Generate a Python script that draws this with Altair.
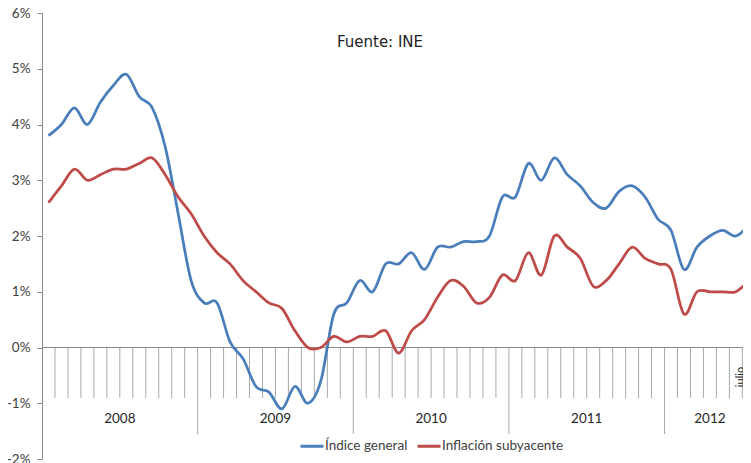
import altair as alt
import pandas as pd

# ---- data ----
years = ["2008", "2009", "2010", "2011", "2012"]
months_per_year = [12, 12, 12, 12, 7]
series_names = ["Índice general", "Inflación subyacente"]
series_colors = ["#4a7ebb", "#be4b48"]

indice_general = [
    3.8, 4.0, 4.3, 4.0, 4.4, 4.7, 4.9, 4.5, 4.3, 3.6, 2.4, 1.2,      # 2008
    0.8, 0.8, 0.1, -0.2, -0.7, -0.8, -1.1, -0.7, -1.0, -0.6, 0.6, 0.8,  # 2009
    1.2, 1.0, 1.5, 1.5, 1.7, 1.4, 1.8, 1.8, 1.9, 1.9, 2.0, 2.7,      # 2010
    2.7, 3.3, 3.0, 3.4, 3.1, 2.9, 2.6, 2.5, 2.8, 2.9, 2.7, 2.3,      # 2011
    2.1, 1.4, 1.8, 2.0, 2.1, 2.0, 2.2,                               # 2012
]
inflacion_subyacente = [
    2.6, 2.9, 3.2, 3.0, 3.1, 3.2, 3.2, 3.3, 3.4, 3.1, 2.7, 2.4,      # 2008
    2.0, 1.7, 1.5, 1.2, 1.0, 0.8, 0.7, 0.3, 0.0, 0.0, 0.2, 0.1,      # 2009
    0.2, 0.2, 0.3, -0.1, 0.3, 0.5, 0.9, 1.2, 1.1, 0.8, 0.9, 1.3,     # 2010
    1.2, 1.7, 1.3, 2.0, 1.8, 1.6, 1.1, 1.2, 1.5, 1.8, 1.6, 1.5,      # 2011
    1.4, 0.6, 1.0, 1.0, 1.0, 1.0, 1.2,                               # 2012
]
y_ticks = [-2, -1, 0, 1, 2, 3, 4, 5, 6]
last_month_label = "julio"
source_label = "Fuente: INE"

# ---- tables built from the arrays ----
n = len(indice_general)
df_lines = pd.DataFrame({
    "t": [i + 0.5 for i in range(n)] * 2,
    "valor": indice_general + inflacion_subyacente,
    "serie": [series_names[0]] * n + [series_names[1]] * n,
    "orden": list(range(n)) * 2,
})

starts, s = [], 0
for m in months_per_year:
    starts.append(s)
    s += m
ends = starts[1:] + [s]
df_years = pd.DataFrame({"year": years, "centro": [(a + b) / 2 for a, b in zip(starts, ends)]})
df_sep = pd.DataFrame({"t": starts[1:], "cero": [0] * (len(starts) - 1)})
month_bounds = [b for b in range(1, n) if b not in starts]
df_month = pd.DataFrame({"t": month_bounds, "cero": [0] * len(month_bounds)})

W, H = 701, 446
x_max = 54.05
xs = alt.Scale(domain=[0, x_max], nice=False, zero=False)
ys = alt.Scale(domain=[-2, 6], nice=False, zero=False)
FONT = "Lato"
GRAY = "#8a8a8a"

y_axis = alt.Axis(
    values=y_ticks, labelExpr="datum.value + '%'", title=None, grid=False,
    domainColor=GRAY, tickColor=GRAY, tickSize=5, labelPadding=7,
    labelFont=FONT, labelFontSize=13.5, labelColor="#404040")

lines = alt.Chart(df_lines).mark_line(interpolate="cardinal", strokeWidth=2.75).encode(
    x=alt.X("t:Q", scale=xs, axis=None),
    y=alt.Y("valor:Q", scale=ys, axis=y_axis),
    color=alt.Color("serie:N", scale=alt.Scale(domain=series_names, range=series_colors),
                    legend=alt.Legend(orient="none", legendX=257, legendY=420,
                                      direction="horizontal", title=None,
                                      symbolType="stroke", symbolSize=529,
                                      symbolStrokeWidth=3, labelFont=FONT,
                                      labelFontSize=13.5, labelColor="#404040",
                                      labelOffset=0, columnPadding=3)),
    order="orden:Q",
)

zero_line = alt.Chart(pd.DataFrame({"v": [0]})).mark_rule(color=GRAY, strokeWidth=1).encode(
    y=alt.Y("v:Q", scale=ys, axis=y_axis), x=alt.value(0), x2=alt.value(W))

month_ticks = alt.Chart(df_month).mark_rule(color="#a8a8a8", strokeWidth=1).encode(
    x=alt.X("t:Q", scale=xs, axis=None), y=alt.Y("cero:Q", scale=ys, axis=y_axis),
    y2=alt.value(385))

year_ticks = alt.Chart(df_sep).mark_rule(color="#a8a8a8", strokeWidth=1).encode(
    x=alt.X("t:Q", scale=xs, axis=None), y=alt.Y("cero:Q", scale=ys, axis=y_axis),
    y2=alt.value(421))

year_labels = alt.Chart(df_years).mark_text(
    font=FONT, fontSize=13.5, color="#262626", baseline="middle").encode(
    x=alt.X("centro:Q", scale=xs, axis=None), y=alt.value(406), text="year:N")

source = alt.Chart(pd.DataFrame({"txt": [source_label]})).mark_text(
    font="DejaVu Sans", fontSize=15, color="#222222", baseline="middle").encode(
    x=alt.value(338), y=alt.value(29), text="txt:N")

julio = alt.Chart(pd.DataFrame({"txt": [last_month_label]})).mark_text(
    font=FONT, fontSize=11, color="#222222", angle=270, baseline="top", align="center").encode(
    x=alt.value(693), y=alt.value(364), text="txt:N")

chart = alt.layer(month_ticks, year_ticks, zero_line, lines, year_labels, source, julio).properties(
    width=W, height=H,
    autosize=alt.AutoSizeParams(type="none"),
    padding={"left": 34, "top": 5, "right": 0, "bottom": 4},
).configure_view(stroke=None)

chart.save("out.html", embed_options={"renderer": "svg", "actions": False})
